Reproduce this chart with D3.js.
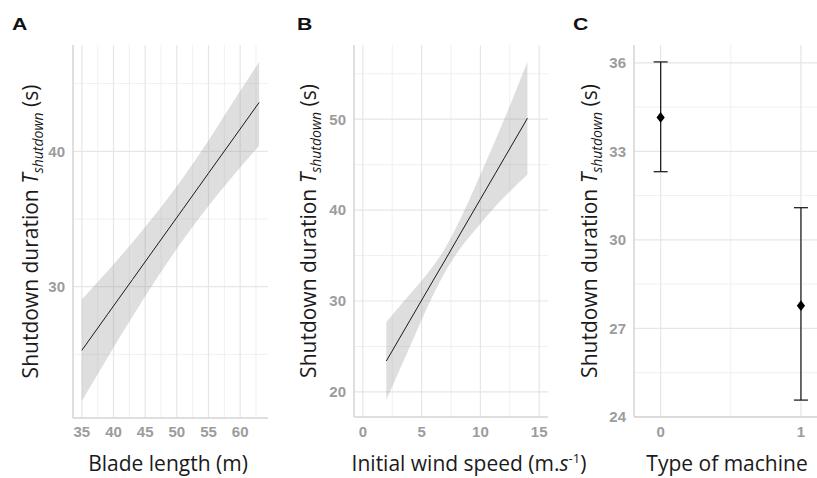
<!DOCTYPE html>
<html>
<head>
<meta charset="utf-8">
<script src="https://cdn.jsdelivr.net/npm/d3@7"></script>
<style>
  html, body { margin: 0; padding: 0; background: #fff; }
  svg { display: block; }
</style>
</head>
<body>
<script>
// ---------- DATA ----------
// Panel A : blade length (m) vs shutdown duration, linear fit with 95% CI
const bladeX     = [35, 39, 43, 47, 51, 55, 59, 63];
const bladeFit   = [25.30, 27.92, 30.53, 33.15, 35.76, 38.38, 40.99, 43.61];
const bladeLower = [21.55, 24.72, 27.79, 30.73, 33.46, 35.96, 38.25, 40.41];
const bladeUpper = [29.05, 31.12, 33.27, 35.57, 38.06, 40.80, 43.73, 46.60];

// Panel B : initial wind speed (m/s) vs shutdown duration
const windX     = [2, 4, 6, 7, 8, 10, 12, 14];
const windFit   = [23.40, 27.85, 32.30, 34.50, 36.75, 41.20, 45.65, 50.10];
const windLower = [19.10, 24.97, 30.72, 33.20, 35.25, 38.50, 41.40, 43.90];
const windUpper = [27.70, 30.73, 33.88, 35.80, 38.25, 43.90, 49.90, 56.30];

// Panel C : type of machine, mean with error bars
const machineType  = [0, 1];
const machineMean  = [34.15, 27.77];
const machineLower = [32.31, 24.57];
const machineUpper = [36.03, 31.09];

// Tick labels
const bladeTicks   = [35, 40, 45, 50, 55, 60];
const bladeMinor   = [37.5, 42.5, 47.5, 52.5, 57.5, 62.5];
const bladeYTicks  = [30, 40];
const bladeYMinor  = [25, 35, 45];
const windTicks    = [0, 5, 10, 15];
const windMinor    = [2.5, 7.5, 12.5];
const windYTicks   = [20, 30, 40, 50];
const windYMinor   = [25, 35, 45, 55];
const machineTicks = [0, 1];
const machineMinor = [0.5];
const machineYTicks = [24, 27, 30, 33, 36];
const machineYMinor = [25.5, 28.5, 31.5, 34.5];

// ---------- LAYOUT ----------
const W = 817, H = 478;
const TOP = 45;
const svg = d3.select("body").append("svg").attr("width", W).attr("height", H)
  .attr("viewBox", `0 0 ${W} ${H}`);

const TITLE_FONT = "'Open Sans', 'Noto Sans', sans-serif";
const TICK_FONT = "'Liberation Sans', Arial, sans-serif";

function expand(ext, m = 0.05) {
  const d = ext[1] - ext[0];
  return [ext[0] - d * m, ext[1] + d * m];
}

function panel(o) {
  const g = svg.append("g");
  const x = d3.scaleLinear().domain(o.xDomain).range([o.left, o.right]);
  const y = d3.scaleLinear().domain(o.yDomain).range([o.bottom, TOP]);
  const clipRight = Math.min(o.right, W);

  // minor grid
  g.selectAll(".vmin").data(o.xMinor).join("line")
    .attr("x1", d => x(d)).attr("x2", d => x(d)).attr("y1", TOP).attr("y2", o.bottom)
    .attr("stroke", "#f0f0f0").attr("stroke-width", 1);
  g.selectAll(".hmin").data(o.yMinor).join("line")
    .attr("x1", o.left).attr("x2", clipRight).attr("y1", d => y(d)).attr("y2", d => y(d))
    .attr("stroke", "#f0f0f0").attr("stroke-width", 1);
  // major grid
  g.selectAll(".vmaj").data(o.xTicks).join("line")
    .attr("x1", d => x(d)).attr("x2", d => x(d)).attr("y1", TOP).attr("y2", o.bottom)
    .attr("stroke", "#e6e6e6").attr("stroke-width", 1.2);
  g.selectAll(".hmaj").data(o.yTicks).join("line")
    .attr("x1", o.left).attr("x2", clipRight).attr("y1", d => y(d)).attr("y2", d => y(d))
    .attr("stroke", "#e6e6e6").attr("stroke-width", 1.2);

  // axis lines
  g.append("line").attr("x1", o.left).attr("x2", o.left).attr("y1", TOP).attr("y2", o.bottom)
    .attr("stroke", "#d4d4d4").attr("stroke-width", 1.5);
  g.append("line").attr("x1", o.left).attr("x2", clipRight).attr("y1", o.bottom).attr("y2", o.bottom)
    .attr("stroke", "#d4d4d4").attr("stroke-width", 1.5);

  // tick labels
  g.selectAll(".xt").data(o.xTicks).join("text")
    .attr("x", d => x(d)).attr("y", 437)
    .attr("text-anchor", "middle")
    .style("font-family", TICK_FONT).style("font-weight", "bold").style("font-size", "15px")
    .attr("fill", "#9c9c9c").text(d => d);
  g.selectAll(".yt").data(o.yTicks).join("text")
    .attr("x", o.left - 8).attr("y", d => y(d)).attr("dy", "0.36em")
    .attr("text-anchor", "end")
    .style("font-family", TICK_FONT).style("font-weight", "bold").style("font-size", "15px")
    .attr("fill", "#9c9c9c").text(d => d);

  // y title
  const yt = g.append("text")
    .attr("transform", `translate(${o.yTitleX},${(TOP + o.bottom) / 2}) rotate(-90)`)
    .attr("text-anchor", "middle")
    .style("font-family", TITLE_FONT).style("font-size", "21px").attr("fill", "#1a1a1a");
  yt.append("tspan").text("Shutdown duration ");
  yt.append("tspan").style("font-style", "italic").text("T");
  yt.append("tspan").style("font-style", "italic").style("font-size", "14px").attr("dy", 5).text("shutdown");
  yt.append("tspan").attr("dy", -5).text(" (s)");

  // panel letter
  svg.append("text")
    .attr("transform", `translate(${o.letterX},30) scale(1.25,1)`)
    .style("font-family", "'Liberation Sans', Arial, sans-serif").style("font-weight", "bold").style("font-size", "17px")
    .attr("fill", "#111").text(o.letter);

  return { g, x, y };
}

// ---------- PANEL A ----------
{
  const p = panel({
    left: 73, right: 268, bottom: 418,
    xDomain: expand(d3.extent(bladeX)),
    yDomain: expand([d3.min(bladeLower), d3.max(bladeUpper)]),
    xTicks: bladeTicks, xMinor: bladeMinor, yTicks: bladeYTicks, yMinor: bladeYMinor,
    yTitleX: 38, letter: "A", letterX: 12
  });
  const rows = bladeX.map((v, i) => ({ x: v, fit: bladeFit[i], lo: bladeLower[i], hi: bladeUpper[i] }));
  p.g.append("path").datum(rows)
    .attr("d", d3.area().x(d => p.x(d.x)).y0(d => p.y(d.lo)).y1(d => p.y(d.hi)).curve(d3.curveMonotoneX))
    .attr("fill", "#999").attr("fill-opacity", 0.32);
  p.g.append("path").datum(rows)
    .attr("d", d3.line().x(d => p.x(d.x)).y(d => p.y(d.fit)))
    .attr("fill", "none").attr("stroke", "#1a1a1a").attr("stroke-width", 1);
  svg.append("text").attr("x", 168).attr("y", 471).attr("text-anchor", "middle")
    .style("font-family", TITLE_FONT).style("font-size", "21px").attr("fill", "#1a1a1a")
    .text("Blade length (m)");
}

// ---------- PANEL B ----------
{
  const p = panel({
    left: 354, right: 548, bottom: 417,
    xDomain: expand([0, 15]),
    yDomain: expand([d3.min(windLower), d3.max(windUpper)]),
    xTicks: windTicks, xMinor: windMinor, yTicks: windYTicks, yMinor: windYMinor,
    yTitleX: 316, letter: "B", letterX: 297
  });
  const rows = windX.map((v, i) => ({ x: v, fit: windFit[i], lo: windLower[i], hi: windUpper[i] }));
  p.g.append("path").datum(rows)
    .attr("d", d3.area().x(d => p.x(d.x)).y0(d => p.y(d.lo)).y1(d => p.y(d.hi)).curve(d3.curveMonotoneX))
    .attr("fill", "#999").attr("fill-opacity", 0.32);
  p.g.append("path").datum(rows)
    .attr("d", d3.line().x(d => p.x(d.x)).y(d => p.y(d.fit)))
    .attr("fill", "none").attr("stroke", "#1a1a1a").attr("stroke-width", 1);
  const t = svg.append("text").attr("x", 469).attr("y", 471).attr("text-anchor", "middle")
    .style("font-family", TITLE_FONT).style("font-size", "21px").attr("fill", "#1a1a1a");
  t.append("tspan").text("Initial wind speed (m.");
  t.append("tspan").style("font-style", "italic").text("s");
  t.append("tspan").style("font-size", "13px").attr("dy", -8).text("-1");
  t.append("tspan").attr("dy", 8).text(")");
}

// ---------- PANEL C ----------
{
  const p = panel({
    left: 634, right: 827.6, bottom: 417,
    xDomain: [-0.19, 1.19],
    yDomain: expand([d3.min(machineLower), d3.max(machineUpper)]),
    xTicks: machineTicks, xMinor: machineMinor, yTicks: machineYTicks, yMinor: machineYMinor,
    yTitleX: 597, letter: "C", letterX: 573
  });
  const rows = machineType.map((v, i) => ({ x: v, m: machineMean[i], lo: machineLower[i], hi: machineUpper[i] }));
  const capHalf = (p.x(0.05) - p.x(0));
  const eb = p.g.selectAll(".eb").data(rows).join("g");
  eb.append("line").attr("x1", d => p.x(d.x)).attr("x2", d => p.x(d.x))
    .attr("y1", d => p.y(d.lo)).attr("y2", d => p.y(d.hi))
    .attr("stroke", "#222").attr("stroke-width", 1.3);
  eb.append("line").attr("x1", d => p.x(d.x) - capHalf).attr("x2", d => p.x(d.x) + capHalf)
    .attr("y1", d => p.y(d.hi)).attr("y2", d => p.y(d.hi))
    .attr("stroke", "#222").attr("stroke-width", 1.3);
  eb.append("line").attr("x1", d => p.x(d.x) - capHalf).attr("x2", d => p.x(d.x) + capHalf)
    .attr("y1", d => p.y(d.lo)).attr("y2", d => p.y(d.lo))
    .attr("stroke", "#222").attr("stroke-width", 1.3);
  eb.append("path")
    .attr("d", d3.symbol(d3.symbolDiamond2, 60)())
    .attr("transform", d => `translate(${p.x(d.x)},${p.y(d.m)}) scale(0.85,1.1)`)
    .attr("fill", "#000");
  svg.append("text").attr("x", 727).attr("y", 471).attr("text-anchor", "middle")
    .style("font-family", TITLE_FONT).style("font-size", "21px").attr("fill", "#1a1a1a")
    .text("Type of machine");
}
</script>
</body>
</html>
